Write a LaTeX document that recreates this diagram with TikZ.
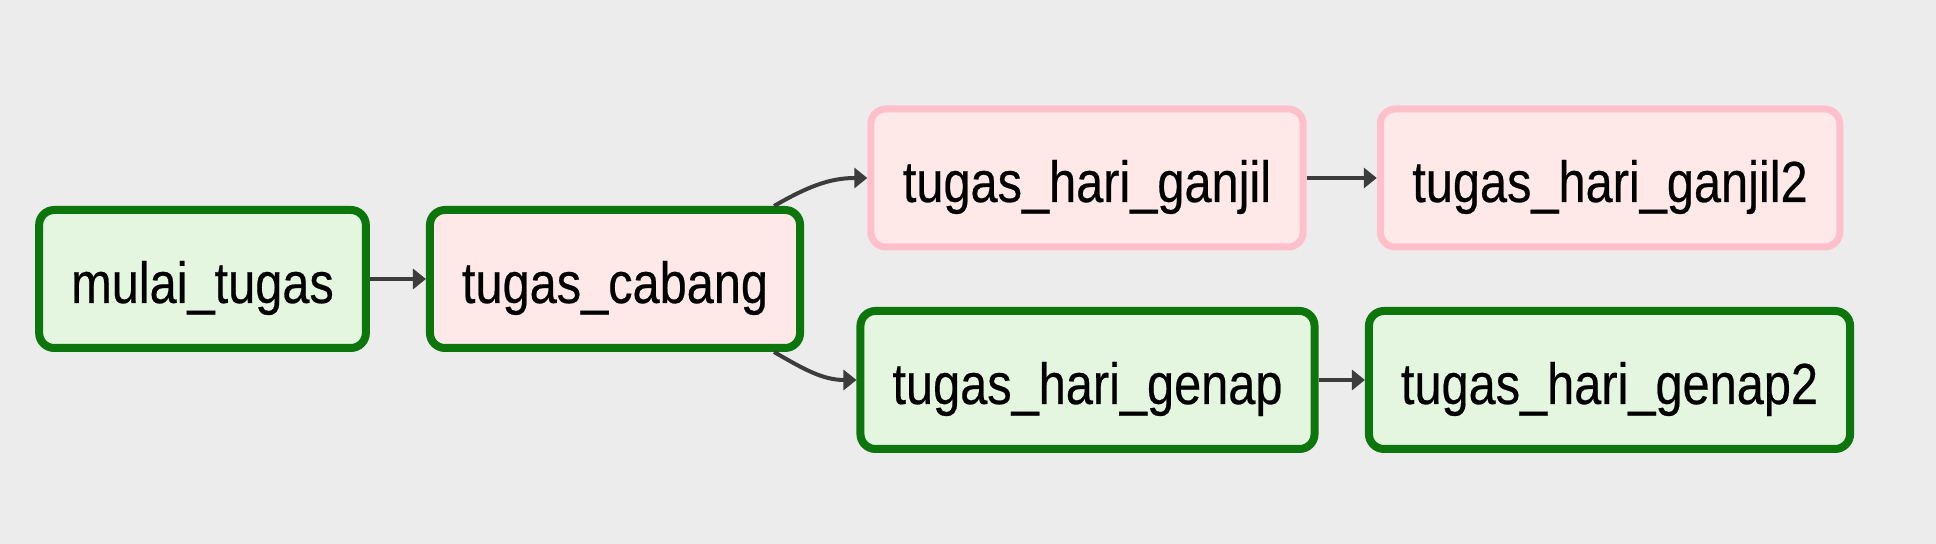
\documentclass[tikz,border=0pt]{standalone}
\usepackage{fontspec}
\setmainfont{Liberation Sans}[FakeStretch=0.84, FakeBold=0.4]
\usetikzlibrary{arrows.meta}
\definecolor{canvas}{RGB}{236,236,236}
\definecolor{okline}{RGB}{12,118,12}
\definecolor{okfill}{RGB}{228,245,224}
\definecolor{skipline}{RGB}{255,192,203}
\definecolor{skipfill}{RGB}{255,232,232}
\definecolor{linkgray}{RGB}{60,60,60}

\begin{document}
\begin{tikzpicture}[x=0.5pt, y=0.5pt,
		task/.style={rounded corners=7.5pt, minimum height=69pt, inner xsep=16pt,
			text height=25pt, text depth=1pt, font=\fontsize{29pt}{34pt}\selectfont},
		done/.style={task, draw=okline, fill=okfill, line width=4pt},
		skipped/.style={task, draw=skipline, fill=skipfill, line width=3.5pt},
		link/.style={draw=linkgray, line width=2pt, -{Triangle[length=6.5pt, width=10pt]}}]
		%%%%% START %%%%%
		
		\fill[canvas] (0, 0) rectangle (1936, 544);
		
		\node[done] (mulai) at (202.5, 265) {mulai\_tugas};
		\node[task, draw=okline, fill=skipfill, line width=4pt] (cabang) at (615, 265) {tugas\_cabang};
		
		\node[skipped] (ganjil) at (1087, 366) {tugas\_hari\_ganjil};
		\node[skipped] (ganjil2) at (1610, 366) {tugas\_hari\_ganjil2};
		
		\node[done] (genap) at (1087.5, 164) {tugas\_hari\_genap};
		\node[done] (genap2) at (1609.5, 164) {tugas\_hari\_genap2};
		
		\draw[link] (mulai) -- (cabang);
		\draw[link] ([xshift=-15pt]cabang.north east) to[out=30, in=180] (ganjil.west);
		\draw[link] ([xshift=-15pt]cabang.south east) to[out=-30, in=180] (genap.west);
		\draw[link] (ganjil) -- (ganjil2);
		\draw[link] (genap) -- (genap2);
		
		%%%%% END %%%%%
	\end{tikzpicture}
\end{document}
